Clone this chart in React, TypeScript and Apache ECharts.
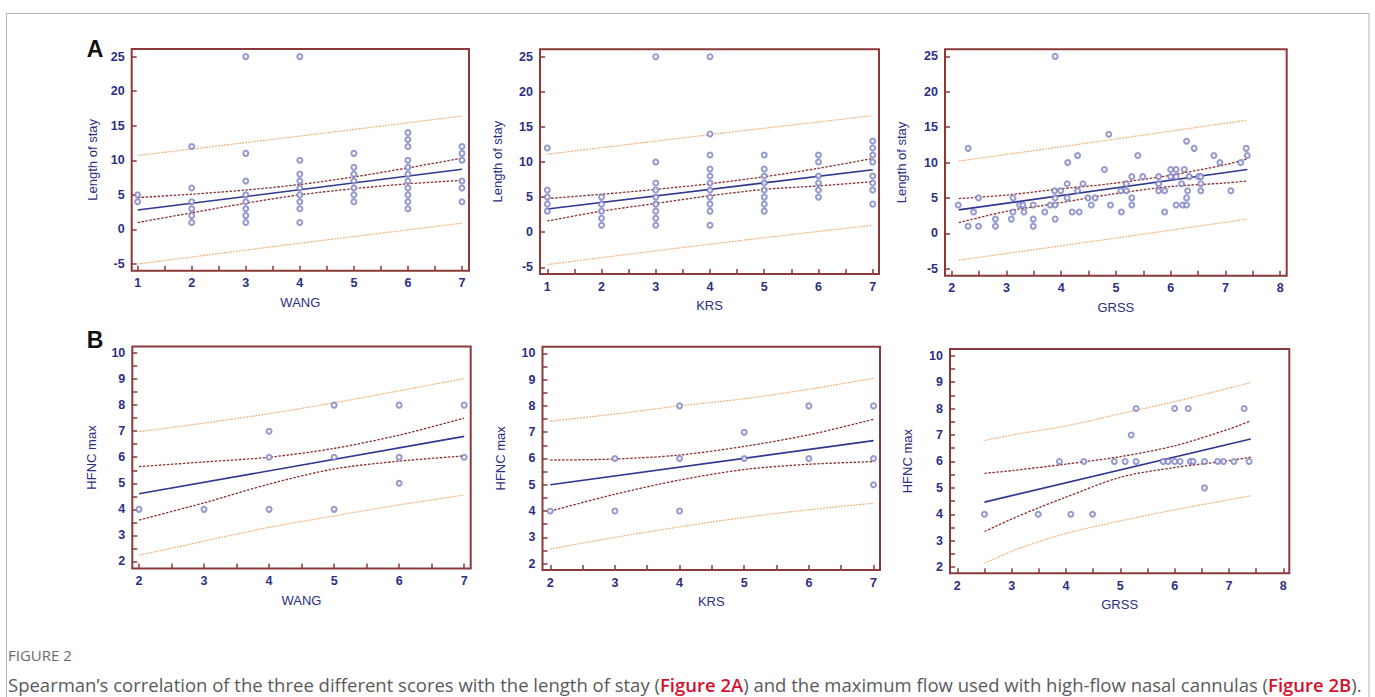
import React, { useEffect, useRef } from "react";
import * as echarts from "echarts";

// ---------- tick labels ----------
const X_LAB_1_7 = [1, 2, 3, 4, 5, 6, 7];
const X_TICK_1_7 = [1, 1.5, 2, 2.5, 3, 3.5, 4, 4.5, 5, 5.5, 6, 6.5, 7];
const X_LAB_2_7 = [2, 3, 4, 5, 6, 7];
const X_TICK_2_7 = [2, 2.5, 3, 3.5, 4, 4.5, 5, 5.5, 6, 6.5, 7];
const X_LAB_2_8 = [2, 3, 4, 5, 6, 7, 8];
const X_TICK_2_8 = [2, 2.5, 3, 3.5, 4, 4.5, 5, 5.5, 6, 6.5, 7, 7.5, 8];
const Y_LAB_LOS = [-5, 0, 5, 10, 15, 20, 25];
const Y_LAB_HFNC = [2, 3, 4, 5, 6, 7, 8, 9, 10];
const Y_TICK_HFNC = [2, 2.5, 3, 3.5, 4, 4.5, 5, 5.5, 6, 6.5, 7, 7.5, 8, 8.5, 9, 9.5, 10];

// ---------- A: length of stay ----------
const wangLos = [[1,5],[1,4],[2,12],[2,6],[2,4],[2,3],[2,2],[2,1],[3,25],[3,11],[3,7],[3,5],[3,4],[3,3],[3,2],[3,1],[4,25],[4,10],[4,8],[4,7],[4,6],[4,5],[4,4],[4,3],[4,1],[5,11],[5,9],[5,8],[5,7],[5,6],[5,5],[5,4],[6,14],[6,13],[6,12],[6,10],[6,9],[6,8],[6,7],[6,6],[6,5],[6,4],[6,3],[7,12],[7,11],[7,10],[7,7],[7,6],[7,4]];
const wangLosReg = [[1,2.8],[7,8.7]];
const wangLosCiUp = [[1,4.6],[2,5.1],[3,5.7],[4,6.5],[5,7.6],[6,8.9],[7,10.3]];
const wangLosCiLo = [[1,1.0],[2,2.4],[3,3.8],[4,5.0],[5,5.9],[6,6.6],[7,7.1]];
const wangLosPrUp = [[1,10.7],[4,13.5],[7,16.4]];
const wangLosPrLo = [[1,-5.0],[4,-2.0],[7,0.9]];

const krsLos = [[1,12],[1,6],[1,5],[1,4],[1,3],[2,5],[2,4],[2,3],[2,2],[2,1],[3,25],[3,10],[3,7],[3,6],[3,5],[3,4],[3,3],[3,2],[3,1],[4,25],[4,14],[4,11],[4,9],[4,8],[4,7],[4,6],[4,5],[4,4],[4,3],[4,1],[5,11],[5,9],[5,8],[5,7],[5,6],[5,5],[5,4],[5,3],[6,11],[6,10],[6,8],[6,7],[6,6],[6,5],[7,13],[7,12],[7,11],[7,10],[7,8],[7,7],[7,6],[7,4]];
const krsLosReg = [[1,3.3],[7,8.9]];
const krsLosCiUp = [[1,4.8],[2,5.4],[3,6.1],[4,6.9],[5,7.9],[6,9.1],[7,10.5]];
const krsLosCiLo = [[1,1.6],[2,3.0],[3,4.1],[4,5.2],[5,6.1],[6,6.6],[7,7.2]];
const krsLosPrUp = [[1,11.1],[4,13.9],[7,16.6]];
const krsLosPrLo = [[1,-4.6],[4,-1.7],[7,1.0]];

const grssLos = [[2.12,4],[2.30,12],[2.30,1],[2.40,3],[2.49,5],[2.49,1],[2.80,2],[2.80,1],[3.09,2],[3.12,5],[3.12,3],[3.24,4],[3.30,4],[3.32,3],[3.49,4],[3.49,2],[3.49,1],[3.70,3],[3.80,4],[3.89,25],[3.88,6],[3.89,5],[3.89,4],[3.89,2],[3.99,6],[4.11,7],[4.11,5],[4.12,10],[4.20,3],[4.30,11],[4.30,6],[4.33,3],[4.40,7],[4.49,5],[4.55,4],[4.62,5],[4.79,9],[4.87,14],[4.90,4],[5.09,6],[5.10,3],[5.19,7],[5.19,6],[5.29,8],[5.29,5],[5.29,4],[5.40,11],[5.49,8],[5.78,8],[5.78,7],[5.78,6],[5.89,6],[5.89,3],[6.00,9],[6.00,8],[6.10,9],[6.10,8],[6.10,4],[6.20,7],[6.22,4],[6.25,9],[6.29,13],[6.29,5],[6.29,4],[6.31,6],[6.34,8],[6.43,12],[6.51,8],[6.55,8],[6.55,7],[6.55,6],[6.79,11],[6.90,10],[7.10,6],[7.28,10],[7.38,12],[7.40,11]];
const grssLosReg = [[2.13,3.3],[7.4,9.0]];
const grssLosCiUp = [[2.13,4.9],[3,5.4],[3.9,6.2],[4.9,7.0],[6,8.2],[7,9.7],[7.4,10.5]];
const grssLosCiLo = [[2.13,1.5],[3,3.1],[3.9,4.2],[4.9,5.5],[6,6.6],[7,7.1],[7.4,7.4]];
const grssLosPrUp = [[2.13,10.2],[4.8,13.1],[7.4,16.0]];
const grssLosPrLo = [[2.13,-3.8],[4.8,-0.9],[7.4,2.0]];

// ---------- B: HFNC max ----------
const wangHf = [[2,4],[3,4],[4,7],[4,6],[4,4],[5,8],[5,6],[5,4],[6,8],[6,6],[6,5],[7,8],[7,6]];
const wangHfReg = [[2,4.6],[7,6.8]];
const wangHfCiUp = [[2,5.64],[3,5.82],[4,6.0],[5,6.34],[6,6.85],[7,7.5]];
const wangHfCiLo = [[2,3.59],[3,4.25],[4,4.97],[5,5.55],[6,5.85],[7,6.05]];
const wangHfPrUp = [[2,6.98],[3,7.31],[4,7.67],[5,8.09],[6,8.55],[7,9.02]];
const wangHfPrLo = [[2,2.24],[3,2.78],[4,3.31],[5,3.75],[6,4.17],[7,4.55]];

const krsHf = [[2,4],[3,6],[3,4],[4,8],[4,6],[4,4],[5,7],[5,6],[6,8],[6,6],[7,8],[7,6],[7,5]];
const krsHfReg = [[2,5.0],[7,6.68]];
const krsHfCiUp = [[2,5.94],[3,5.98],[4,6.13],[5,6.46],[6,6.9],[7,7.49]];
const krsHfCiLo = [[2,4.0],[3,4.64],[4,5.18],[5,5.58],[6,5.78],[7,5.88]];
const krsHfPrUp = [[2,7.42],[3,7.69],[4,8.0],[5,8.27],[6,8.63],[7,9.05]];
const krsHfPrLo = [[2,2.56],[3,3.0],[4,3.4],[5,3.76],[6,4.05],[7,4.3]];

const grssHf = [[2.50,4],[3.49,4],[3.88,6],[4.09,4],[4.33,6],[4.49,4],[4.89,6],[5.09,6],[5.20,7],[5.29,8],[5.29,6],[5.79,6],[5.88,6],[6.00,8],[6.00,6],[6.10,6],[6.25,8],[6.29,6],[6.34,6],[6.55,6],[6.55,5],[6.79,6],[6.90,6],[7.09,6],[7.28,8],[7.37,6]];
const grssHfReg = [[2.5,4.46],[7.4,6.85]];
const grssHfCiUp = [[2.5,5.55],[3,5.65],[4,5.9],[5,6.18],[6,6.59],[7,7.22],[7.4,7.53]];
const grssHfCiLo = [[2.5,3.35],[3,3.82],[3.5,4.25],[4,4.65],[5,5.4],[6,5.77],[7,6.03],[7.4,6.16]];
const grssHfPrUp = [[2.5,6.79],[3,7.0],[4,7.34],[5,7.8],[6,8.26],[7,8.77],[7.4,8.98]];
const grssHfPrLo = [[2.5,2.15],[3,2.6],[3.5,2.97],[4,3.28],[5,3.75],[6,4.17],[7,4.55],[7.4,4.7]];

const FRAME = "#8a3a3a";
const NAVY = "#2c2e84";
const REG = "#2f378f";
const CI = "#8e2f2f";
const PRED = "#f2b47e";
const PT = "#7c7fc3";
const FONT = '"Liberation Sans", Arial, sans-serif';

const panels = [
  { g: { left: 131.7, top: 49, width: 337.3, height: 221.7 }, xmin: 0.89, xmax: 7.13, xl: X_LAB_1_7, xt: X_TICK_1_7, xn: "WANG", ymin: -5.97, ymax: 26.1, yl: Y_LAB_LOS, yt: Y_LAB_LOS, yn: "Length of stay", yg: 33, pts: wangLos, reg: wangLosReg, cu: wangLosCiUp, cl: wangLosCiLo, pu: wangLosPrUp, pl: wangLosPrLo },
  { g: { left: 540, top: 49.3, width: 339, height: 224.7 }, xmin: 0.865, xmax: 7.116, xl: X_LAB_1_7, xt: X_TICK_1_7, xn: "KRS", ymin: -5.95, ymax: 26.05, yl: Y_LAB_LOS, yt: Y_LAB_LOS, yn: "Length of stay", yg: 36, pts: krsLos, reg: krsLosReg, cu: krsLosCiUp, cl: krsLosCiLo, pu: krsLosPrUp, pl: krsLosPrLo },
  { g: { left: 945, top: 49.3, width: 341.7, height: 226.4 }, xmin: 1.878, xmax: 8.12, xl: X_LAB_2_8, xt: X_TICK_2_8, xn: "GRSS", ymin: -6.0, ymax: 26.0, yl: Y_LAB_LOS, yt: Y_LAB_LOS, yn: "Length of stay", yg: 37, pts: grssLos, reg: grssLosReg, cu: grssLosCiUp, cl: grssLosCiLo, pu: grssLosPrUp, pl: grssLosPrLo },
  { g: { left: 132.3, top: 346.5, width: 338.4, height: 222 }, xmin: 1.897, xmax: 7.1, xl: X_LAB_2_7, xt: X_TICK_2_7, xn: "WANG", ymin: 1.73, ymax: 10.25, yl: Y_LAB_HFNC, yt: Y_TICK_HFNC, yn: "HFNC max", yg: 34, pts: wangHf, reg: wangHfReg, cu: wangHfCiUp, cl: wangHfCiLo, pu: wangHfPrUp, pl: wangHfPrLo },
  { g: { left: 542.5, top: 346.7, width: 337.5, height: 223.3 }, xmin: 1.88, xmax: 7.1, xl: X_LAB_2_7, xt: X_TICK_2_7, xn: "KRS", ymin: 1.76, ymax: 10.25, yl: Y_LAB_HFNC, yt: Y_TICK_HFNC, yn: "HFNC max", yg: 36, pts: krsHf, reg: krsHfReg, cu: krsHfCiUp, cl: krsHfCiLo, pu: krsHfPrUp, pl: krsHfPrLo },
  { g: { left: 950, top: 349, width: 339.3, height: 224.3 }, xmin: 1.866, xmax: 8.11, xl: X_LAB_2_8, xt: X_TICK_2_8, xn: "GRSS", ymin: 1.77, ymax: 10.25, yl: Y_LAB_HFNC, yt: Y_TICK_HFNC, yn: "HFNC max", yg: 36, pts: grssHf, reg: grssHfReg, cu: grssHfCiUp, cl: grssHfCiLo, pu: grssHfPrUp, pl: grssHfPrLo },
];

function buildOption() {
  const grid: any[] = [];
  const xAxis: any[] = [];
  const yAxis: any[] = [];
  const series: any[] = [];
  panels.forEach((p, i) => {
    grid.push({ ...p.g, show: true, borderColor: FRAME, borderWidth: 2, backgroundColor: "#fff", containLabel: false });
    xAxis.push({
      type: "value", gridIndex: i, min: p.xmin, max: p.xmax,
      name: p.xn, nameLocation: "middle", nameGap: 25,
      nameTextStyle: { color: NAVY, fontSize: 13, fontFamily: FONT },
      axisLine: { show: false, onZero: false },
      axisTick: { show: true, inside: true, length: 5, customValues: p.xt, lineStyle: { color: FRAME, width: 1.5 } },
      axisLabel: { customValues: p.xl, color: NAVY, fontSize: 12.5, fontWeight: "bold", fontFamily: FONT, margin: 6 },
      splitLine: { show: false },
    });
    yAxis.push({
      type: "value", gridIndex: i, min: p.ymin, max: p.ymax,
      name: p.yn, nameLocation: "middle", nameGap: p.yg,
      nameTextStyle: { color: NAVY, fontSize: 13, fontFamily: FONT },
      axisLine: { show: false, onZero: false },
      axisTick: { show: true, inside: true, length: 5, customValues: p.yt, lineStyle: { color: FRAME, width: 1.5 } },
      axisLabel: { customValues: p.yl, color: NAVY, fontSize: 12.5, fontWeight: "bold", fontFamily: FONT, margin: 7 },
      splitLine: { show: false },
    });
    const line = (data: number[][], color: string, width: number, type: any, smooth: any) => ({
      type: "line", xAxisIndex: i, yAxisIndex: i, data, symbol: "none", smooth,
      lineStyle: { color, width, type }, silent: true, z: 2,
    });
    series.push(line(p.pu, PRED, 1.2, [2, 1], 0.3));
    series.push(line(p.pl, PRED, 1.2, [2, 1], 0.3));
    series.push(line(p.cu, CI, 1.3, [2.5, 1.5], 0.3));
    series.push(line(p.cl, CI, 1.3, [2.5, 1.5], 0.3));
    series.push(line(p.reg, REG, 1.6, "solid", false));
    series.push({
      type: "scatter", xAxisIndex: i, yAxisIndex: i, data: p.pts,
      symbol: "emptyCircle", symbolSize: 5,
      itemStyle: { color: PT, borderColor: PT, borderWidth: 1 }, z: 3, silent: true,
    });
  });

  const graphic: any[] = [
    { type: "rect", shape: { x: 6.5, y: 13.5, width: 1362.5, height: 720 }, style: { fill: "none", stroke: "#b5b5b5", lineWidth: 1 }, silent: true, z: -1 },
    { type: "text", x: 95, y: 48.5, style: { text: "A", font: 'bold 23px "Liberation Sans", Arial, sans-serif', fill: "#111", align: "center", verticalAlign: "middle" } },
    { type: "text", x: 95, y: 340, style: { text: "B", font: 'bold 23px "Liberation Sans", Arial, sans-serif', fill: "#111", align: "center", verticalAlign: "middle" } },
    { type: "text", x: 8, y: 655, style: { text: "FIGURE 2", font: '15px "Open Sans", sans-serif', fill: "#6b6b6b", verticalAlign: "middle" } },
    {
      type: "text", x: 8, y: 684,
      style: {
        text: "Spearman\u2019s correlation of the three different scores with the length of stay ({r|Figure 2A}) and the maximum flow used with high-flow nasal cannulas ({r|Figure 2B}).",
        font: '18.5px "Open Sans", sans-serif', fill: "#5a5a5a", verticalAlign: "middle",
        rich: { r: { fill: "#d3102f", fontSize: 18.5, fontFamily: '"Open Sans", sans-serif', fontWeight: 600 } },
      },
    },
  ];

  return { animation: false, backgroundColor: "#fff", grid, xAxis, yAxis, series, graphic };
}

export default function App() {
  const ref = useRef<HTMLDivElement>(null);
  useEffect(() => {
    document.body.style.margin = "0";
    const chart = echarts.init(ref.current!, null, { renderer: "svg" });
    chart.setOption(buildOption());
    return () => chart.dispose();
  }, []);
  return <div ref={ref} style={{ width: 1375, height: 697 }} />;
}
